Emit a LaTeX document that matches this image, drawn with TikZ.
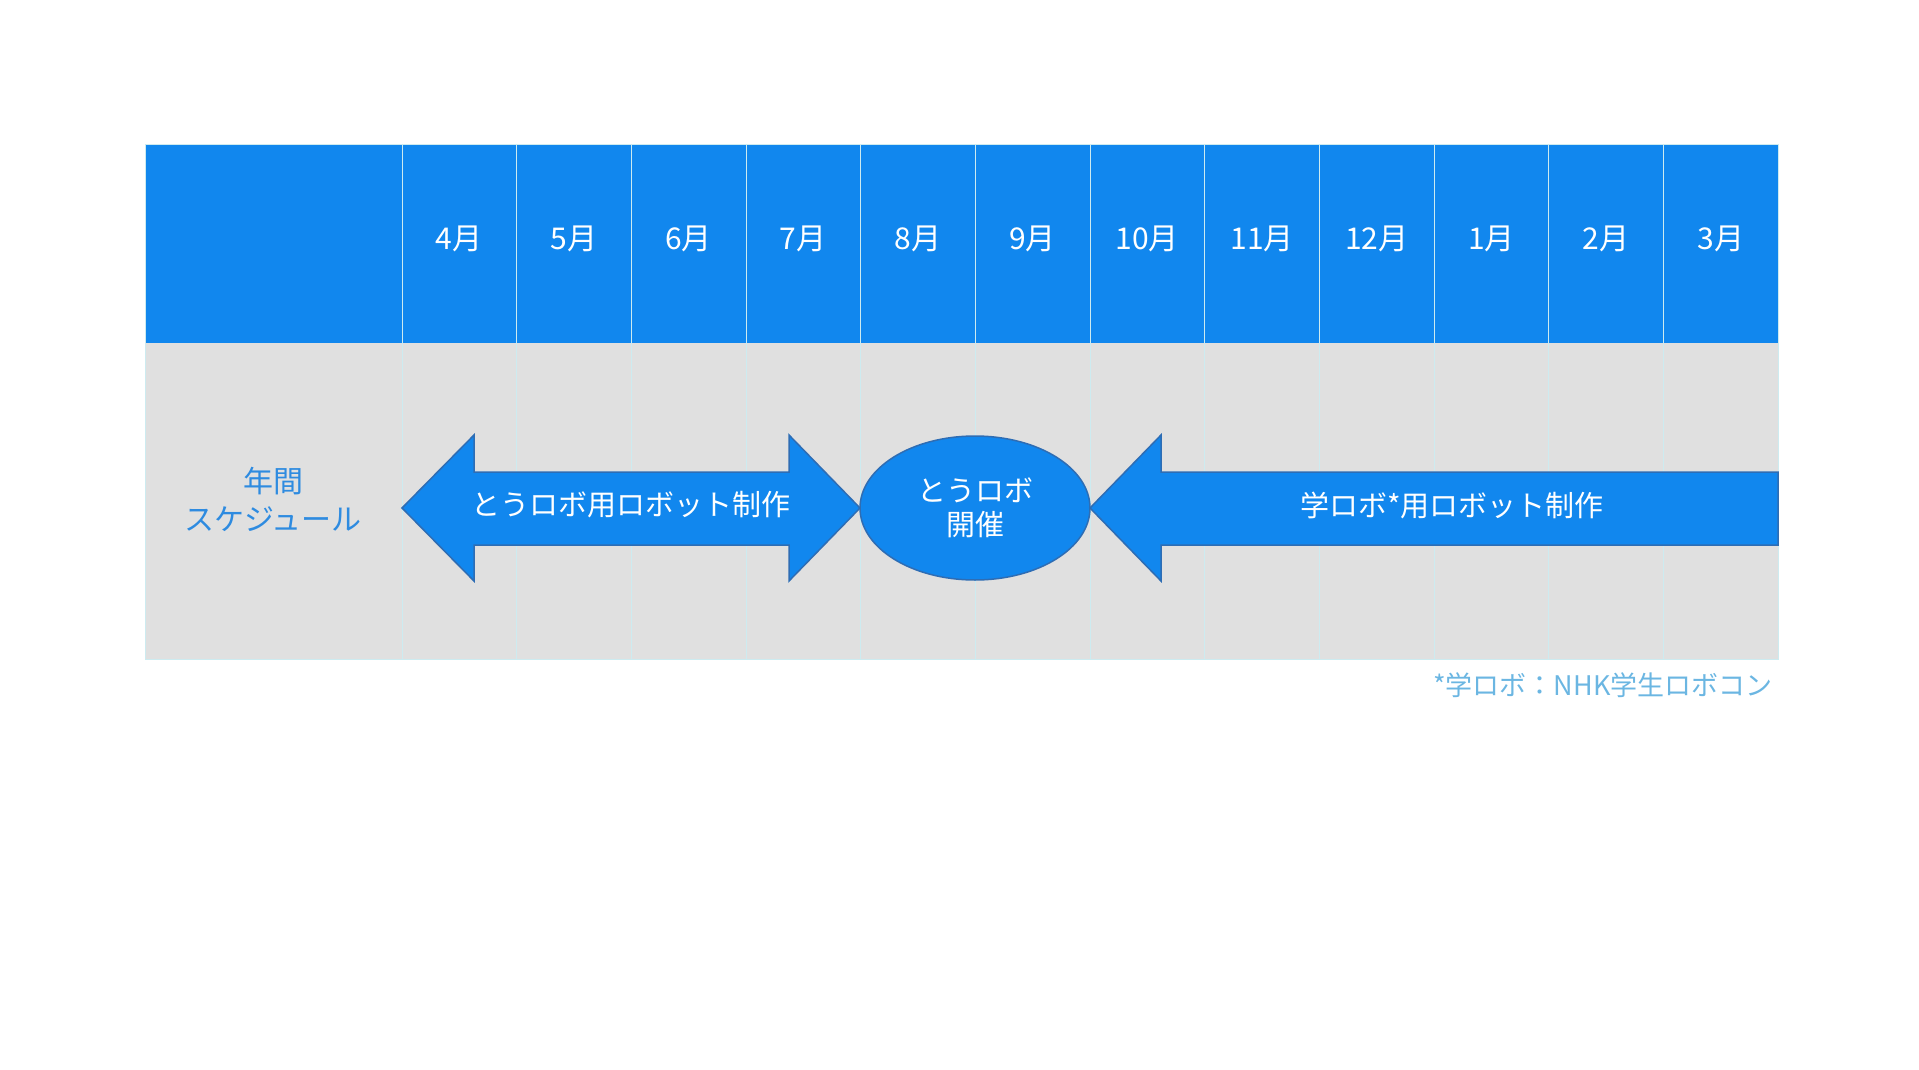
\documentclass[tikz,border=0pt]{standalone}
\usepackage{fontspec}
\usepackage{tikz}
\usetikzlibrary{shapes.geometric}
\newfontfamily\jp{Noto Sans CJK JP}
\definecolor{hdr}{HTML}{1187EE}
\definecolor{bodyg}{HTML}{E0E0E0}
\definecolor{gridl}{HTML}{CDEBF0}
\definecolor{shp}{HTML}{1187EE}
\definecolor{shpb}{HTML}{2E6DB4}
\definecolor{lbl}{HTML}{2E8BE0}
\definecolor{note}{HTML}{6BB6E2}
\begin{document}
\begin{tikzpicture}[x=1pt,y=-1pt,
  mon/.style={text=white,font=\jp\fontsize{30}{32}\selectfont},
  blueshape/.style={fill=shp,draw=shpb,line width=1.5pt},
  stxt/.style={text=white,font=\jp\fontsize{29}{34}\selectfont,align=center}]
\useasboundingbox (0,0) rectangle (1919,1070);
\fill[hdr] (145,144) rectangle (1778,343);
\fill[bodyg] (145,343) rectangle (1778,659);
\draw[gridl,line width=0.8pt] (145,144) rectangle (1778,659);
\draw[gridl,line width=0.8pt] (402,144) -- (402,659);
\foreach \i [count=\k from 1] in {4,...,12,1,2,3} {
  \pgfmathsetmacro\xl{402+(\k-1)*114.67}
  \pgfmathsetmacro\xc{\xl+57.3}
  \draw[gridl,line width=0.8pt] (\xl,144) -- (\xl,659);
  \node[mon] (m\k) at (\xc,239) {\i 月};
}
\node[text=lbl,font=\jp\fontsize{30}{38}\selectfont,align=center] (lab) at (273,499) {年間\\スケジュール};
\draw[blueshape] (402,508) -- (474,435) -- (474,472) -- (789,472) -- (789,435) -- (860,508)
  -- (789,581) -- (789,545) -- (474,545) -- (474,581) -- cycle;
\node[stxt] (a1) at (631,505) {とうロボ用ロボット制作};
\node[ellipse,blueshape,minimum width=230pt,minimum height=144pt,inner sep=0pt] (ev) at (975,508) {};
\node[stxt] at (ev) {とうロボ\\開催};
\draw[blueshape] (1090,508) -- (1161,435) -- (1161,472) -- (1778,472) -- (1778,545) -- (1161,545) -- (1161,581) -- cycle;
\node[stxt] (a2) at (1452,505) {学ロボ*用ロボット制作};
\node[text=note,font=\jp\fontsize{27}{30}\selectfont,anchor=east] (fn) at (1776,685) {*学ロボ：NHK学生ロボコン};
\end{tikzpicture}
\end{document}
